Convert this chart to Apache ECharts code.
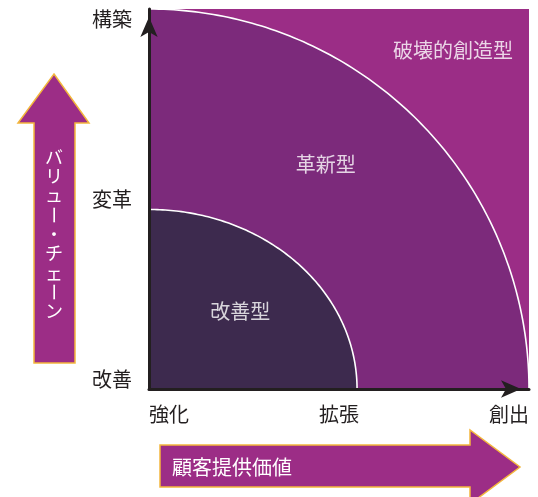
<!DOCTYPE html>
<html><head><meta charset="utf-8">
<script src="https://cdn.jsdelivr.net/npm/echarts@6/dist/echarts.min.js"></script>
<style>html,body{margin:0;padding:0;background:#fff}#c{width:538px;height:497px}</style>
</head><body><div id="c"></div>
<script>
var xTicks = ['強化', '拡張', '創出'];
var yTicks = ['改善', '変革', '構築'];
var zoneNames = ['破壊的創造型', '革新型', '改善型'];
var zoneRadiusX = [null, 2.0, 1.095];
var zoneRadiusY = [null, 2.0, 0.945];
var zoneLabelX = [1.60, 0.93, 0.48];
var zoneLabelY = [1.78, 1.18, 0.41];
var xAxisTitle = '顧客提供価値';
var yAxisTitle = 'バリュー・チェーン';

var FONT = '"Noto Sans CJK JP", "Noto Sans", sans-serif';
var zoneColors = ['#9b2d86', '#7c2a7b', '#3d2a4e'];
var arrowFill = '#9c2d86', arrowStroke = '#f3b63c';

var chart = echarts.init(document.getElementById('c'), null, {renderer: 'canvas'});

function quarterItem(params, api) {
  var rx = api.value(0), ry = api.value(1);
  var color = zoneColors[params.dataIndex + 1];
  var arc = [];
  var N = 120;
  for (var i = 0; i <= N; i++) {
    var t = Math.PI / 2 * i / N;
    arc.push(api.coord([rx * Math.cos(t), ry * Math.sin(t)]));
  }
  var poly = [api.coord([0, 0])].concat(arc);
  return {
    type: 'group',
    children: [
      {type: 'polygon', shape: {points: poly}, style: {fill: color, stroke: null}},
      {type: 'polyline', shape: {points: arc}, style: {stroke: '#ffffff', lineWidth: 1.6, fill: null}}
    ]
  };
}

// vertical writing: one text element per character, long-vowel mark rotated upright
var vChars = yAxisTitle.split('');
var vTextEls = vChars.map(function (c, i) {
  var isBar = (c === 'ー');
  return {
    type: 'text', z: 21, x: 54, y: 157 + i * 19.3,
    originX: 0, originY: 0,
    rotation: isBar ? -Math.PI / 2 : 0,
    style: {text: c, fill: '#ffffff', font: '18px ' + FONT, align: 'center', verticalAlign: 'middle'}
  };
});

var option = {
  animation: false,
  backgroundColor: '#ffffff',
  grid: {left: 149, top: 9, width: 380, height: 380, containLabel: false},
  xAxis: {
    type: 'value', min: 0, max: 2, interval: 1, z: 10,
    axisLine: {show: true, lineStyle: {color: '#231f20', width: 3}, symbol: ['none', 'arrow'], symbolSize: [13, 20], symbolOffset: [0, -8]},
    axisTick: {show: false}, splitLine: {show: false},
    axisLabel: {
      formatter: function (v) { return xTicks[Math.round(v)]; },
      color: '#231f20', fontSize: 20, fontFamily: FONT, margin: 15,
      alignMinLabel: 'left', alignMaxLabel: 'right'
    }
  },
  yAxis: {
    type: 'value', min: 0, max: 2, interval: 1, z: 10,
    axisLine: {show: true, lineStyle: {color: '#231f20', width: 3}, symbol: ['none', 'arrow'], symbolSize: [13, 20], symbolOffset: [0, -8]},
    axisTick: {show: false}, splitLine: {show: false},
    axisLabel: {
      formatter: function (v) { return yTicks[Math.round(v)]; },
      color: '#231f20', fontSize: 20, fontFamily: FONT, margin: 17,
      verticalAlignMinLabel: 'bottom', verticalAlignMaxLabel: 'top'
    }
  },
  series: [
    {
      type: 'custom', z: 2, silent: true,
      renderItem: function (params, api) {
        var p0 = api.coord([0, 0]);
        var p1 = api.coord([api.value(0), api.value(1)]);
        return {type: 'rect', shape: {x: p0[0], y: p1[1], width: p1[0] - p0[0], height: p0[1] - p1[1]}, style: {fill: zoneColors[0]}};
      },
      data: [[2, 2]]
    },
    {
      type: 'custom', z: 3, silent: true,
      renderItem: quarterItem,
      data: [[zoneRadiusX[1], zoneRadiusY[1]], [zoneRadiusX[2], zoneRadiusY[2]]]
    },
    {
      type: 'scatter', z: 5, silent: true, symbolSize: 0,
      data: zoneNames.map(function (n, i) { return {value: [zoneLabelX[i], zoneLabelY[i]], name: n}; }),
      label: {show: true, position: 'inside', formatter: '{b}', color: '#ffffff', fontSize: 20, fontFamily: FONT}
    }
  ],
  graphic: [
    {
      type: 'polygon', z: 20,
      shape: {points: [[54, 74], [89, 123], [75, 123], [75, 363], [34, 363], [34, 123], [18, 123]]},
      style: {fill: arrowFill, stroke: arrowStroke, lineWidth: 1.5}
    },
    {
      type: 'polygon', z: 20,
      shape: {points: [[160, 445], [470, 445], [470, 430], [520, 467], [470, 504], [470, 487], [160, 487]]},
      style: {fill: arrowFill, stroke: arrowStroke, lineWidth: 1.5}
    },
    {
      type: 'text', z: 21, x: 172, y: 467,
      style: {text: xAxisTitle, fill: '#ffffff', font: '20px ' + FONT, align: 'left', verticalAlign: 'middle'}
    }
  ].concat(vTextEls)
};
chart.setOption(option);
</script>
</body></html>
